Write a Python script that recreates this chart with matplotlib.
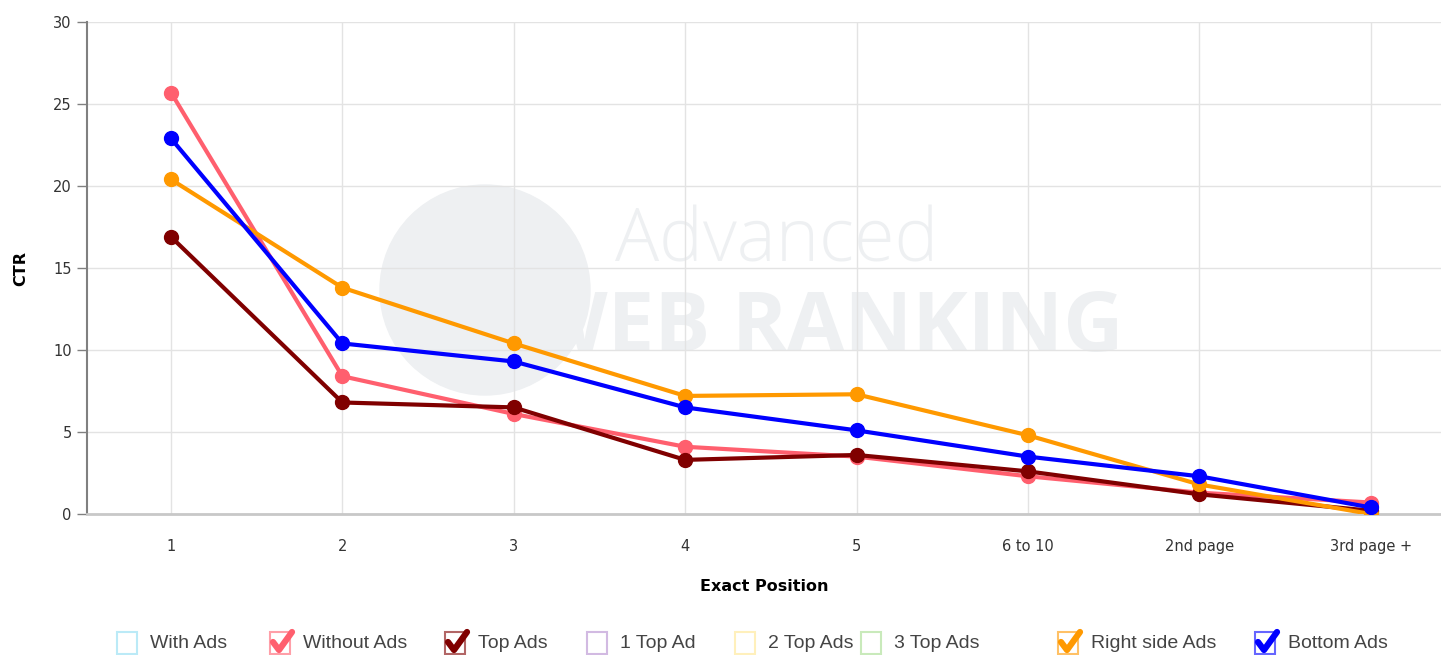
import matplotlib
matplotlib.use("Agg")
import matplotlib.pyplot as plt
from matplotlib.patches import Rectangle, Ellipse

# Data
positions = ['1', '2', '3', '4', '5', '6 to 10', '2nd page', '3rd page +']
without_ads = [25.7, 8.4, 6.1, 4.1, 3.5, 2.3, 1.3, 0.7]
top_ads = [16.9, 6.8, 6.5, 3.3, 3.6, 2.6, 1.2, 0.2]
right_side_ads = [20.4, 13.8, 10.4, 7.2, 7.3, 4.8, 1.8, 0.0]
bottom_ads = [22.9, 10.4, 9.3, 6.5, 5.1, 3.5, 2.3, 0.4]

legend_names = ['With Ads', 'Without Ads', 'Top Ads', '1 Top Ad', '2 Top Ads',
                '3 Top Ads', 'Right side Ads', 'Bottom Ads']
legend_colors = ['#8fdcf2', '#ff5f6e', '#800000', '#b48dd0', '#ffe690',
                 '#a6dc8e', '#ff9900', '#0000ff']
legend_checked = [False, True, True, False, False, False, True, True]
legend_x = [127, 280, 455, 597, 745, 871, 1068, 1265]

W, H = 1441, 655
fig = plt.figure(figsize=(W / 100, H / 100), dpi=100)
ax = fig.add_axes([87 / W, 1 - 514 / H, 1 - 87 / W, (514 - 22) / H])

# Watermark (behind the grid)
wm = '#eef0f2'
ax.add_patch(Ellipse((485 / W, 1 - 290 / H), 210 / W, 210 / H,
                     transform=fig.transFigure, color=wm, zorder=0.1))
ax.text(615 / W, 1 - 243 / H, 'Advanced', fontsize=53, color=wm,
        family='Open Sans', fontweight='light', va='center', zorder=0.1,
        transform=fig.transFigure)
ax.text(527 / W, 1 - 330 / H, 'WEB RANKING', fontsize=60, color=wm,
        family='Open Sans', fontweight='bold', va='center', zorder=0.1,
        transform=fig.transFigure)

x = list(range(len(positions)))
series = [(without_ads, '#ff5f6e'), (top_ads, '#800000'),
          (right_side_ads, '#ff9900'), (bottom_ads, '#0000ff')]
for vals, col in series:
    ax.plot(x, vals, color=col, lw=3, marker='o', markersize=10, zorder=3,
            solid_joinstyle='round')

ax.set_xlim(-0.49, 7.41)
ax.set_ylim(0, 30)
ax.set_yticks(range(0, 31, 5))
ax.set_xticks(x)
ax.set_xticklabels(positions)
ax.set_facecolor('none')
ax.grid(True, color='#e3e3e3', lw=1)
ax.set_axisbelow(True)
for s in ['top', 'right']:
    ax.spines[s].set_visible(False)
ax.spines['left'].set_color('#808080')
ax.spines['left'].set_linewidth(1.5)
ax.spines['bottom'].set_color('#c8c8c8')
ax.spines['bottom'].set_linewidth(2)
ax.tick_params(axis='y', length=7, color='#808080', width=1, labelsize=10.5,
               labelcolor='#333333', pad=4)
ax.tick_params(axis='x', length=0, labelsize=10.5, labelcolor='#333333', pad=18)
ax.set_xlabel('Exact Position', fontsize=11.5, fontweight='bold', labelpad=18)
ax.set_ylabel('CTR', fontsize=11.5, fontweight='bold', labelpad=18)

# Legend with checkboxes
ly = 1 - 643 / H
bw, bh = 20 / W, 22 / H
for name, col, checked, lx in zip(legend_names, legend_colors, legend_checked, legend_x):
    fig.patches.append(Rectangle((lx / W - bw / 2, ly - bh / 2), bw, bh,
                                 transform=fig.transFigure, fill=False,
                                 ec=col, lw=1.5, alpha=0.6))
    if checked:
        fig.lines.append(plt.Line2D([(lx - 7) / W, (lx - 1) / W, (lx + 12) / W],
                                    [ly + 1 / H, ly - 7 / H, ly + 11 / H],
                                    transform=fig.transFigure, color=col, lw=4.5,
                                    solid_capstyle='round', solid_joinstyle='round'))
    fig.text((lx + 23) / W, ly, name, fontsize=14, family='Liberation Sans',
             color='#444444', va='center', ha='left')

fig.savefig('out.png', dpi=100)
